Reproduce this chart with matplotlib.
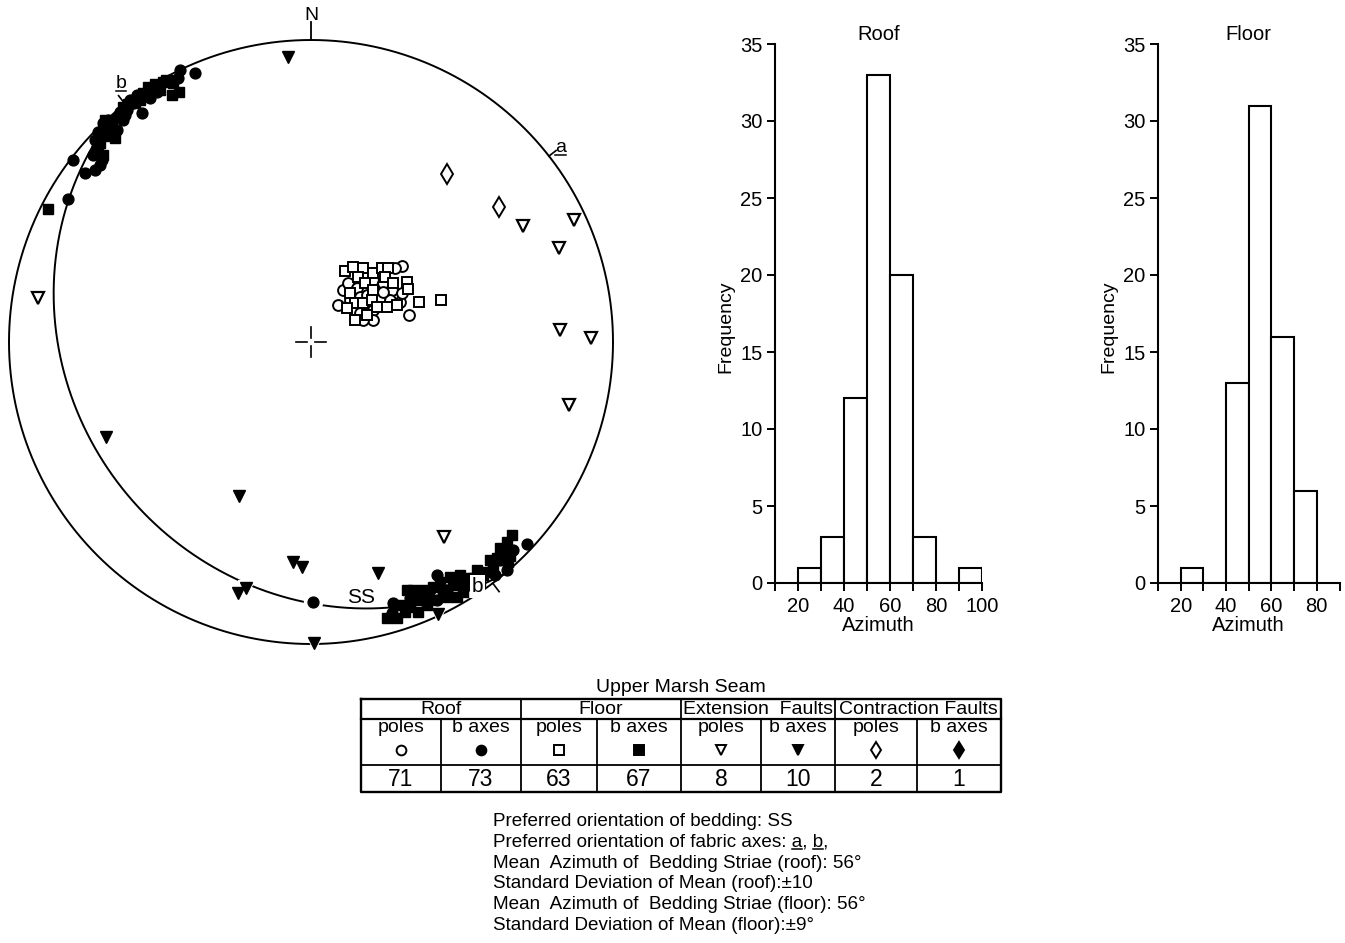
import numpy as np
import matplotlib
matplotlib.use("Agg")
import matplotlib.pyplot as plt
from matplotlib import font_manager as fm
from matplotlib.lines import Line2D

W, H, DPI = 1345, 943, 100

avail = {f.name for f in fm.fontManager.ttflist}
BASE = "Liberation Sans" if "Liberation Sans" in avail else "DejaVu Sans"
NARROW = "Liberation Sans Narrow" if "Liberation Sans Narrow" in avail else BASE
plt.rcParams["font.family"] = [BASE, "DejaVu Sans"]

# ---------------- data ----------------
# Stereonet (lower hemisphere), x = East, y = North, unit = primitive radius
roof_b_x = [-0.384, -0.434, -0.533, -0.576, -0.599, -0.609, -0.632, -0.560, -0.689, -0.666,
            -0.642, -0.705, -0.715, -0.709, -0.722, -0.692, -0.788, -0.748, -0.715, -0.805,
            -0.440, -0.623, 0.007, 0.715, 0.669, 0.649, 0.609, 0.417, 0.417, 0.450,
            0.272, 0.268, 0.526, 0.371, 0.560,
            -0.589, -0.550, -0.510, -0.616, -0.672, -0.467, -0.699,
            0.328, 0.477, 0.626, 0.394]
roof_b_y = [0.891, 0.901, 0.808, 0.818, 0.801, 0.768, 0.762, 0.758, 0.725, 0.712,
            0.702, 0.695, 0.669, 0.646, 0.619, 0.603, 0.603, 0.560, 0.570, 0.474,
            0.874, 0.735, -0.861, -0.669, -0.689, -0.755, -0.772, -0.772, -0.854, -0.821,
            -0.864, -0.897, -0.805, -0.841, -0.781,
            0.791, 0.815, 0.828, 0.752, 0.735, 0.868, 0.586,
            -0.848, -0.788, -0.722, -0.821]

floor_b_x = [-0.490, -0.457, -0.437, -0.460, -0.540, -0.556, -0.623, -0.649, -0.871, -0.583,
             -0.672, -0.699, -0.517, -0.682, 0.666, 0.649, 0.659, 0.636, 0.652, 0.616,
             0.603, 0.583, 0.550, 0.517, 0.493, 0.460, 0.427, 0.404, 0.371, 0.338,
             0.318, 0.361, 0.450, 0.483, 0.503, 0.328, 0.354, 0.252, 0.285, 0.560, 0.394,
             -0.639, -0.606, -0.566, -0.500, -0.480, -0.526, -0.659, -0.685, -0.705, -0.689,
             0.295, 0.344, 0.384, 0.437, 0.470, 0.503, 0.536, 0.570, 0.593, 0.626, 0.384, 0.311]
floor_b_y = [0.861, 0.858, 0.828, 0.818, 0.844, 0.825, 0.778, 0.675, 0.440, 0.791,
             0.702, 0.659, 0.854, 0.735, -0.639, -0.662, -0.709, -0.699, -0.728, -0.715,
             -0.745, -0.762, -0.755, -0.781, -0.772, -0.778, -0.795, -0.811, -0.821, -0.821,
             -0.821, -0.854, -0.844, -0.844, -0.828, -0.877, -0.894, -0.914, -0.914, -0.795, -0.854,
             0.742, 0.788, 0.801, 0.834, 0.868, 0.841, 0.709, 0.682, 0.636, 0.619,
             -0.871, -0.844, -0.831, -0.821, -0.805, -0.798, -0.781, -0.772, -0.722, -0.682,
             -0.871, -0.894]

roof_poles_x = [0.301, 0.106, 0.123, 0.152, 0.205, 0.238, 0.268, 0.162, 0.185, 0.228,
                0.262, 0.295, 0.089, 0.162, 0.205, 0.205, 0.325, 0.238, 0.301, 0.172,
                0.278, 0.129, 0.179]
roof_poles_y = [0.252, 0.172, 0.195, 0.179, 0.205, 0.195, 0.172, 0.149, 0.156, 0.146,
                0.139, 0.132, 0.123, 0.096, 0.106, 0.073, 0.089, 0.166, 0.162, 0.073,
                0.245, 0.139, 0.222]

floor_poles_x = [0.113, 0.139, 0.172, 0.205, 0.235, 0.255, 0.156, 0.179, 0.205, 0.245,
                 0.272, 0.318, 0.321, 0.129, 0.146, 0.172, 0.202, 0.219, 0.252, 0.285,
                 0.358, 0.430, 0.146, 0.185, 0.119]
floor_poles_y = [0.235, 0.248, 0.245, 0.228, 0.245, 0.245, 0.215, 0.195, 0.172, 0.215,
                 0.195, 0.199, 0.175, 0.162, 0.129, 0.129, 0.139, 0.116, 0.116, 0.123,
                 0.132, 0.139, 0.073, 0.089, 0.113]

ext_poles_x = [-0.904, 0.702, 0.871, 0.821, 0.825, 0.927, 0.854, 0.440]
ext_poles_y = [0.146, 0.384, 0.404, 0.311, 0.040, 0.013, -0.209, -0.646]

ext_b_x = [-0.076, -0.679, -0.238, -0.060, -0.030, 0.222, -0.242, -0.215, 0.010, 0.421]
ext_b_y = [0.944, -0.315, -0.510, -0.728, -0.745, -0.765, -0.831, -0.815, -0.997, -0.901]

con_poles_x = [0.450, 0.623]
con_poles_y = [0.556, 0.447]

# preferred bedding plane SS (right-hand-rule strike / dip), degrees
ss_strike, ss_dip = 140.0, 22.0
# fabric axes label directions (azimuths, degrees)
a_axis_az = 52.0
b_axis_az = [322.0, 143.0]

# Histograms of bedding striae azimuths
roof_edges = [20, 30, 40, 50, 60, 70, 80, 90, 100]
roof_counts = [1, 3, 12, 33, 20, 3, 0, 1]
floor_edges = [20, 30, 40, 50, 60, 70, 80]
floor_counts = [1, 0, 13, 31, 16, 6]

# Table
table_title = "Upper Marsh Seam"
table_groups = ["Roof", "Floor", "Extension  Faults", "Contraction Faults"]
table_sub = ["poles", "b axes"] * 4
table_counts = [71, 73, 63, 67, 8, 10, 2, 1]
table_markers = ["o", "o", "s", "s", "v", "v", "d", "d"]
table_filled = [False, True, False, True, False, True, False, True]

notes = [
    "Preferred orientation of bedding: SS",
    "Preferred orientation of fabric axes: a, b,",
    "Mean  Azimuth of  Bedding Striae (roof): 56\u00b0",
    "Standard Deviation of Mean (roof):\u00b110",
    "Mean  Azimuth of  Bedding Striae (floor): 56\u00b0",
    "Standard Deviation of Mean (floor):\u00b19\u00b0",
]

# ---------------- figure ----------------
fig = plt.figure(figsize=(W / DPI, H / DPI), dpi=DPI)
fig.patch.set_facecolor("white")
renderer = fig.canvas.get_renderer()


def rect(x0, y0, x1, y1):
    return [x0 / W, 1 - y1 / H, (x1 - x0) / W, (y1 - y0) / H]


def underline_span(bb0, bb1, ybb, gap=2.0, lw=1.1):
    y = ybb - gap
    fig.add_artist(Line2D([bb0 / W, bb1 / W], [y / H, y / H], transform=fig.transFigure,
                          color="black", lw=lw))


# ----- stereonet -----
CX, CY, R = 311, 342, 302
sx0, sy0, sx1, sy1 = 0, 0, 660, 690
ax = fig.add_axes(rect(sx0, sy0, sx1, sy1))
ax.set_xlim((sx0 - CX) / R, (sx1 - CX) / R)
ax.set_ylim((CY - sy1) / R, (CY - sy0) / R)
ax.axis("off")

th = np.linspace(0, 2 * np.pi, 721)
ax.plot(np.cos(th), np.sin(th), color="black", lw=1.4, zorder=2)

# great circle of SS, equal-area projection
s = np.radians(ss_strike)
d = np.radians(ss_dip)
dd = s + np.pi / 2
t = np.linspace(0, np.pi, 400)
S = np.array([np.sin(s), np.cos(s), 0.0])
D = np.array([np.sin(dd) * np.cos(d), np.cos(dd) * np.cos(d), np.sin(d)])
vec = np.outer(np.cos(t), S) + np.outer(np.sin(t), D)
plunge = np.arcsin(np.clip(vec[:, 2], -1, 1))
trend = np.arctan2(vec[:, 0], vec[:, 1])
rr = np.sqrt(2) * np.sin((np.pi / 2 - plunge) / 2)
ax.plot(rr * np.sin(trend), rr * np.cos(trend), color="black", lw=1.4, zorder=2)

# N tick + label
ax.plot([0, 0], [1.0, 1.06], color="black", lw=1.3)
ax.text(0, 1.082, "N", ha="center", va="center", fontsize=14, family=NARROW)

# centre cross
g, L = 0.012, 0.05
ax.plot([-L, -g], [0, 0], color="black", lw=1.2)
ax.plot([g, L], [0, 0], color="black", lw=1.2)
ax.plot([0, 0], [-L, -g], color="black", lw=1.2)
ax.plot([0, 0], [g, L], color="black", lw=1.2)

# fabric axis ticks and labels
aa = np.radians(a_axis_az)
ax.plot([np.sin(aa), 1.03 * np.sin(aa)], [np.cos(aa), 1.03 * np.cos(aa)], color="black", lw=1.2)
ta = ax.text(0.825, 0.629, "a", ha="center", va="baseline", fontsize=14, family=NARROW)
ba = np.radians(b_axis_az[0])
ax.plot([np.sin(ba), 1.035 * np.sin(ba)], [np.cos(ba), 1.035 * np.cos(ba)], color="black", lw=1.2)
tbl = ax.text(-0.629, 0.84, "b", ha="center", va="baseline", fontsize=14, family=NARROW)
for tt in (ta, tbl):
    e = tt.get_window_extent(renderer)
    disp = ax.transData.transform(tt.get_position())
    underline_span(e.x0, e.x1, disp[1], gap=2.5)

# halos so the SS line breaks around symbols near it
halo_kw = dict(ls="none", color="white", zorder=3)
ax.plot(ext_b_x, ext_b_y, marker="v", ms=12, **halo_kw)
ax.plot([roof_b_x[22]], [roof_b_y[22]], marker="o", ms=13, **halo_kw)

ax.text(0.165, -0.845, "SS", ha="center", va="center", fontsize=15, family=NARROW, zorder=6)

mk = dict(ls="none", zorder=5)
ax.plot(roof_poles_x, roof_poles_y, marker="o", ms=7.8, mfc="white", mec="black", mew=1.4, **mk)
ax.plot(floor_poles_x, floor_poles_y, marker="s", ms=7.2, mfc="white", mec="black", mew=1.4, **mk)
ax.plot(floor_b_x, floor_b_y, marker="s", ms=7.2, color="black", **mk)
ax.plot(roof_b_x, roof_b_y, marker="o", ms=7.8, color="black", **mk)
ax.plot(ext_poles_x, ext_poles_y, marker="v", ms=8.5, mfc="white", mec="black", mew=1.6, **mk)
ax.plot(ext_b_x, ext_b_y, marker="v", ms=8.5, color="black", **mk)
ax.plot(con_poles_x, con_poles_y, marker="d", ms=10, mfc="white", mec="black", mew=1.4, **mk)

bb = np.radians(b_axis_az[1])
ax.plot([np.sin(bb), 1.035 * np.sin(bb)], [np.cos(bb), 1.035 * np.cos(bb)], color="black", lw=1.2, zorder=6)
ax.text(0.55, -0.81, "b", ha="center", va="center", fontsize=15, family=NARROW, zorder=7,
        bbox=dict(boxstyle="square,pad=0.08", fc="white", ec="none"))


# ----- histograms -----
def histogram(box, edges, counts, xmax, title):
    h = fig.add_axes(rect(*box))
    h.bar(edges[:-1], counts, width=np.diff(edges), align="edge", facecolor="white",
          edgecolor="black", linewidth=1.5, zorder=2)
    h.set_xlim(10, xmax)
    h.set_ylim(0, 35)
    for sp in ("top", "right"):
        h.spines[sp].set_visible(False)
    for sp in ("left", "bottom"):
        h.spines[sp].set_linewidth(1.5)
    h.set_xticks(list(range(20, xmax + 1, 20)))
    h.set_xticks(list(range(10, xmax + 1, 20)), minor=True)
    h.set_yticks(list(range(0, 36, 5)))
    h.tick_params(axis="both", which="both", direction="out", length=6, width=1.4,
                  labelsize=14.5, pad=3)
    h.tick_params(axis="x", pad=4)
    h.set_title(title, fontsize=14.5, pad=3)
    h.set_ylabel("Frequency", fontsize=14, labelpad=4, y=0.475)
    h.set_xlabel("Azimuth", fontsize=14.5, labelpad=0)
    return h


histogram((775, 44, 982, 583), roof_edges, roof_counts, 100, "Roof")
histogram((1158, 44, 1339.5, 583), floor_edges, floor_counts, 90, "Floor")

# ----- table -----
tx0, ty0, tx1, ty1 = 361, 699, 1001, 792
tb = fig.add_axes(rect(tx0, ty0, tx1, ty1))
tb.set_xlim(0, tx1 - tx0)
tb.set_ylim(ty1 - ty0, 0)
tb.axis("off")
cols = [0, 80, 160, 236, 320, 400, 474, 556, 640]
r1, r2, r3 = 20, 66, ty1 - ty0
tb.plot([0, 640, 640, 0, 0], [0, 0, r3, r3, 0], color="black", lw=1.7, clip_on=False)
tb.plot([0, 640], [r1, r1], color="black", lw=1.6, clip_on=False)
tb.plot([0, 640], [r2, r2], color="black", lw=1.3, clip_on=False)
for i, c in enumerate(cols[1:-1], start=1):
    top = 0 if i % 2 == 0 else r1
    tb.plot([c, c], [top, r3], color="black", lw=1.3, clip_on=False)
for gi, name in enumerate(table_groups):
    tb.text((cols[2 * gi] + cols[2 * gi + 2]) / 2, r1 / 2 + 1, name, ha="center", va="center",
            fontsize=14, family=NARROW)
for j in range(8):
    xc = (cols[j] + cols[j + 1]) / 2
    tb.text(xc, 29, table_sub[j], ha="center", va="center", fontsize=14, family=NARROW)
    fc = "black" if table_filled[j] else "white"
    ms = 7 if table_markers[j] != "d" else 8.5
    tb.plot([xc], [51], marker=table_markers[j], ms=ms, mfc=fc, mec="black", mew=1.4,
            ls="none", clip_on=False)
    tb.text(xc, (r2 + r3) / 2 + 1, str(table_counts[j]), ha="center", va="center",
            fontsize=16.5, family=NARROW)
fig.text((tx0 + tx1) / 2 / W, 1 - 687 / H, table_title, ha="center", va="center",
         fontsize=14, family=NARROW)

# ----- notes -----
note_kw = dict(ha="left", va="baseline", fontsize=13.6, family=NARROW)
for k, line in enumerate(notes):
    yb = 1 - (826 + 20.8 * k) / H
    fig.text(493 / W, yb, line, **note_kw)
    if k == 1:
        for upto in ("Preferred orientation of fabric axes: a",
                     "Preferred orientation of fabric axes: a, b"):
            tmp = fig.text(493 / W, yb, upto, **note_kw)
            e_full = tmp.get_window_extent(renderer)
            tmp.remove()
            tmp2 = fig.text(493 / W, yb, upto[-1], **note_kw)
            e_ch = tmp2.get_window_extent(renderer)
            tmp2.remove()
            underline_span(e_full.x1 - e_ch.width, e_full.x1, yb * H, gap=2.5)

fig.savefig("out.png", dpi=DPI, facecolor="white")
